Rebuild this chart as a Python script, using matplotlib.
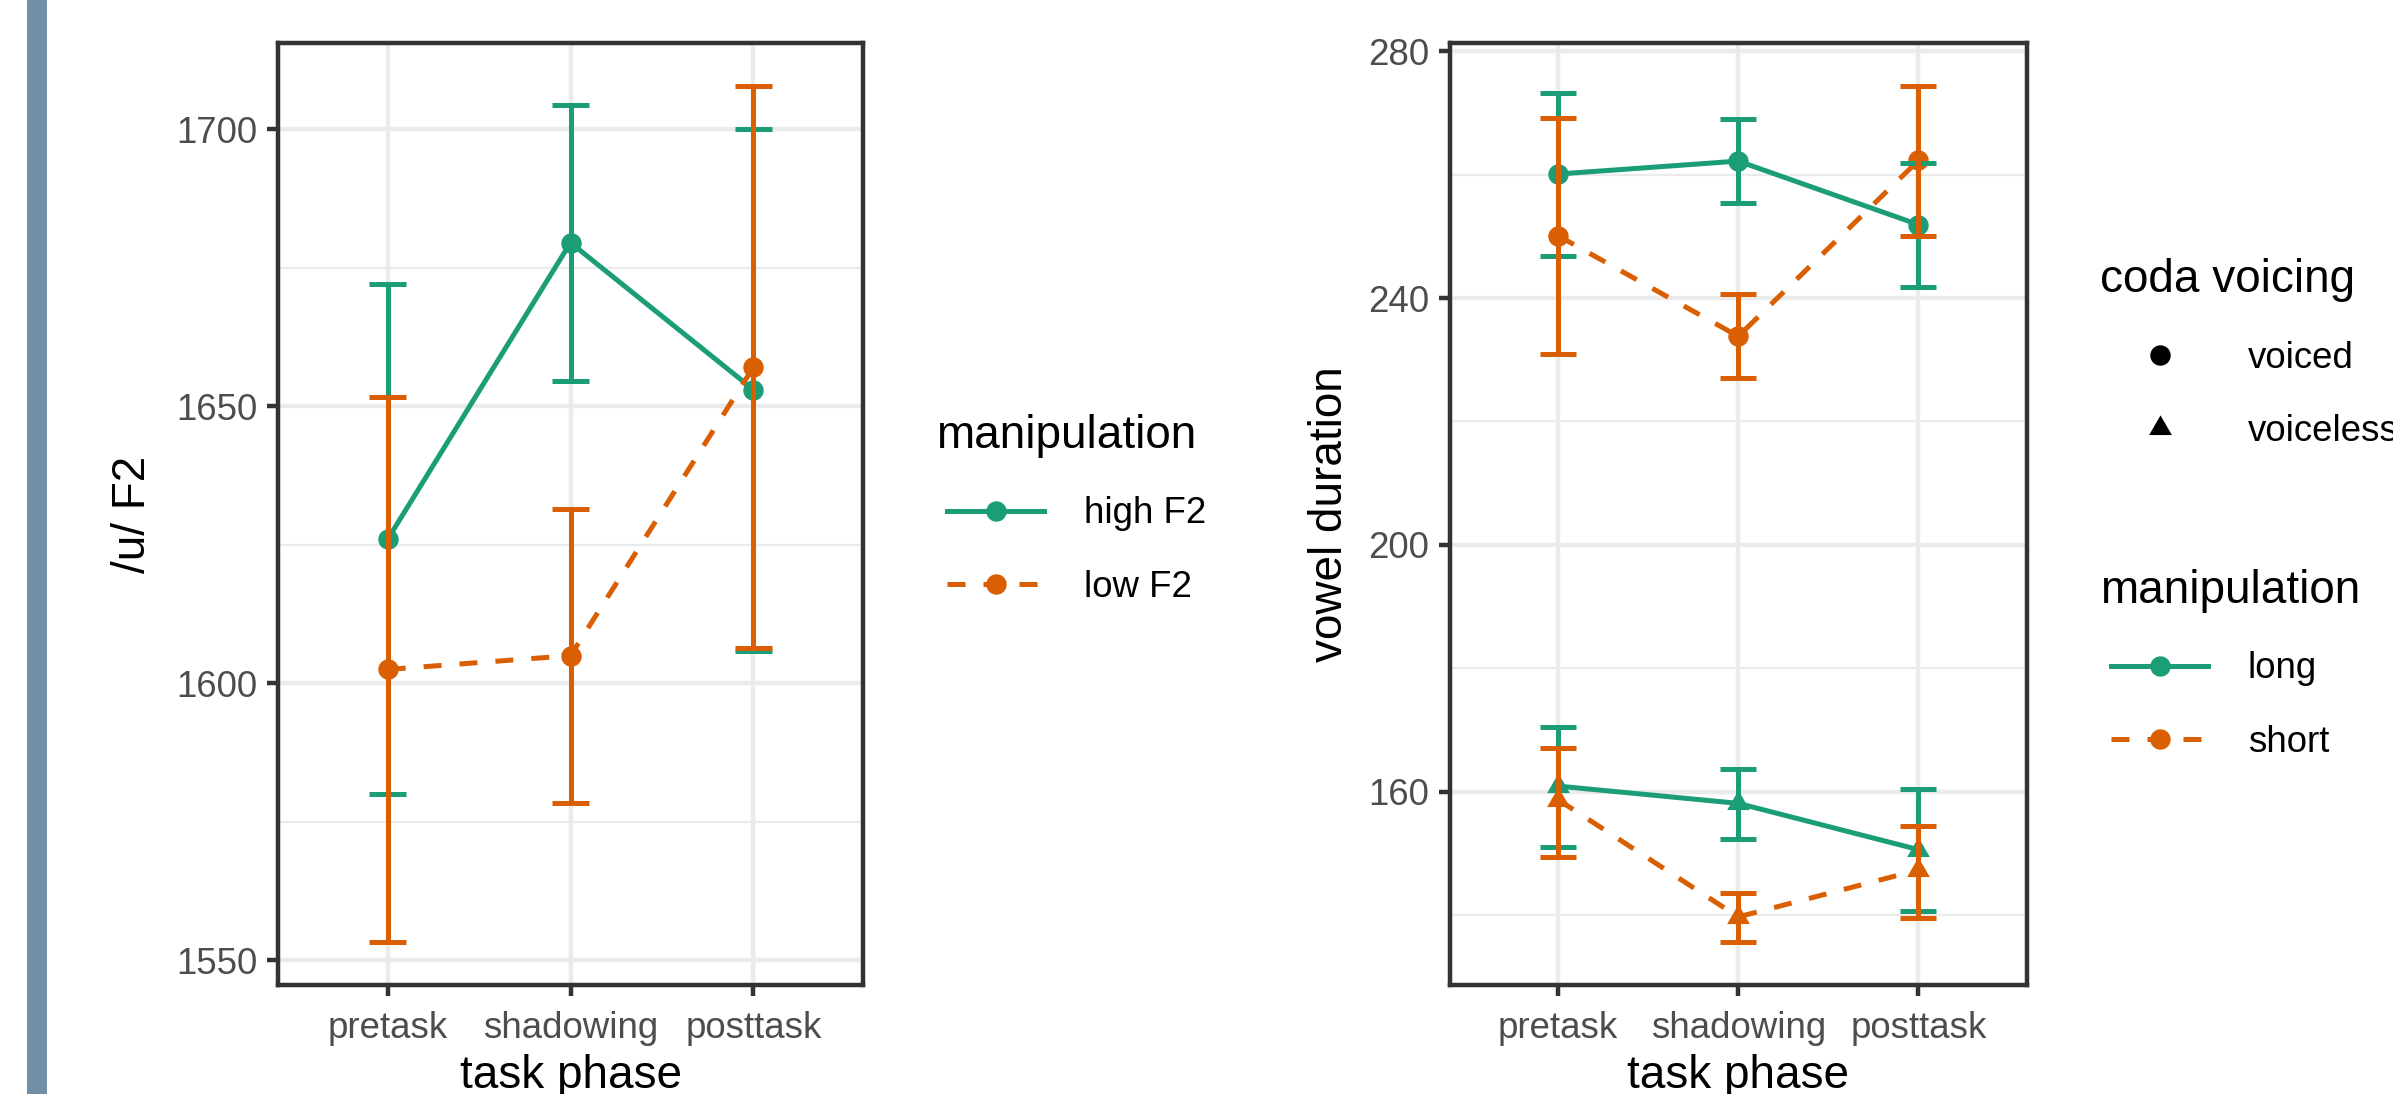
import matplotlib
matplotlib.use('Agg')
import matplotlib.pyplot as plt
from matplotlib.lines import Line2D
from matplotlib.patches import Rectangle
import numpy as np

plt.rcParams['font.family'] = ['Liberation Sans', 'DejaVu Sans']

# ---------------- data ----------------
phases = ['pretask', 'shadowing', 'posttask']

# left panel: /u/ F2
f2_high = [1626.0, 1679.5, 1653.0]
f2_high_lo = [1580.0, 1654.6, 1605.8]
f2_high_hi = [1672.0, 1704.3, 1700.0]
f2_low = [1602.5, 1605.0, 1657.0]
f2_low_lo = [1553.3, 1578.5, 1606.4]
f2_low_hi = [1651.6, 1631.5, 1707.8]

# right panel: vowel duration
dur_voiced_long = [260.1, 262.2, 251.9]
dur_voiced_long_lo = [246.8, 255.4, 241.8]
dur_voiced_long_hi = [273.2, 269.1, 261.9]
dur_voiced_short = [250.1, 233.8, 262.3]
dur_voiced_short_lo = [231.0, 227.1, 250.1]
dur_voiced_short_hi = [269.2, 240.6, 274.4]
dur_voiceless_long = [160.9, 158.1, 150.6]
dur_voiceless_long_lo = [151.0, 152.4, 140.7]
dur_voiceless_long_hi = [170.4, 163.7, 160.5]
dur_voiceless_short = [158.7, 139.7, 147.3]
dur_voiceless_short_lo = [149.4, 135.6, 139.5]
dur_voiceless_short_hi = [167.1, 143.5, 154.5]

f2_major = [1550, 1600, 1650, 1700]
f2_minor = [1575, 1625, 1675]
dur_major = [160, 200, 240, 280]
dur_minor = [140, 180, 220, 260]

# ---------------- style ----------------
W, H = 2393, 1094
DPI = 300
GREEN = '#1B9E77'
ORANGE = '#D95F02'
LW = 1.2
DASH = (0, (3.6, 3.6))
TRI = [(0, 1), (0.8660, -0.5), (-0.8660, -0.5), (0, 1)]
MS_C = 4.9
MS_T = 6.3

fig = plt.figure(figsize=(W / DPI, H / DPI), dpi=DPI)
fig.patch.set_facecolor('white')


def px_axes(l, t, r, b):
    return fig.add_axes([l / W, 1 - b / H, (r - l) / W, (b - t) / H])


def expand(*arrs):
    lo = min(min(a) for a in arrs)
    hi = max(max(a) for a in arrs)
    d = (hi - lo) * 0.05
    return lo - d, hi + d


def style(ax, ylim, major, minor):
    ax.set_xlim(-0.6, 2.6)
    ax.set_ylim(*ylim)
    ax.set_xticks(range(len(phases)))
    ax.set_xticklabels(phases)
    ax.set_yticks(major)
    ax.set_yticklabels([str(v) for v in major])
    ax.set_yticks(minor, minor=True)
    ax.grid(True, which='major', color='#EBEBEB', lw=1.07)
    ax.grid(True, which='minor', axis='y', color='#EBEBEB', lw=0.53)
    ax.set_axisbelow(True)
    for s in ax.spines.values():
        s.set_color('#333333')
        s.set_linewidth(1.07)
        s.set_zorder(10)
    ax.tick_params(which='major', length=2.75, width=1.07, color='#333333',
                   labelsize=8.8, labelcolor='#4D4D4D', pad=2.2)
    ax.tick_params(axis='x', which='major', pad=3.4)
    ax.tick_params(which='minor', length=0)


def draw(ax, y, lo, hi, color, ls, marker, ms, z):
    x = np.arange(len(y))
    ax.plot(x, y, color=color, lw=LW, ls=ls, zorder=2 + z)
    ax.plot(x, y, ls='none', marker=marker, ms=ms, color=color, mew=0, zorder=3 + z)
    ax.vlines(x, lo, hi, colors=color, lw=LW, zorder=4 + z)
    ax.hlines(lo, x - 0.1, x + 0.1, colors=color, lw=LW, zorder=4 + z)
    ax.hlines(hi, x - 0.1, x + 0.1, colors=color, lw=LW, zorder=4 + z)


# ---------------- left panel ----------------
ax1 = px_axes(278, 43, 863, 985)
style(ax1, expand(f2_high_lo, f2_high_hi, f2_low_lo, f2_low_hi), f2_major, f2_minor)
draw(ax1, f2_high, f2_high_lo, f2_high_hi, GREEN, '-', 'o', MS_C, 0)
draw(ax1, f2_low, f2_low_lo, f2_low_hi, ORANGE, DASH, 'o', MS_C, 0.1)

# ---------------- right panel ----------------
ax2 = px_axes(1450, 43, 2026.5, 985)
style(ax2, expand(dur_voiced_long_lo, dur_voiced_long_hi, dur_voiced_short_lo,
                  dur_voiced_short_hi, dur_voiceless_long_lo, dur_voiceless_long_hi,
                  dur_voiceless_short_lo, dur_voiceless_short_hi), dur_major, dur_minor)
draw(ax2, dur_voiced_long, dur_voiced_long_lo, dur_voiced_long_hi, GREEN, '-', 'o', MS_C, 0)
draw(ax2, dur_voiceless_long, dur_voiceless_long_lo, dur_voiceless_long_hi, GREEN, '-', TRI, MS_T, 0.05)
draw(ax2, dur_voiced_short, dur_voiced_short_lo, dur_voiced_short_hi, ORANGE, DASH, 'o', MS_C, 0.1)
draw(ax2, dur_voiceless_short, dur_voiceless_short_lo, dur_voiceless_short_hi, ORANGE, DASH, TRI, MS_T, 0.15)

# ---------------- axis titles ----------------
fig.text(133 / W, 1 - 514 / H, '/u/ F2', rotation=90, ha='center', va='center', fontsize=11)
fig.text(1330 / W, 1 - 514 / H, 'vowel duration', rotation=90, ha='center', va='center', fontsize=11)
fig.text(570.5 / W, 1 - 1088 / H, 'task phase', ha='center', va='baseline', fontsize=11)
fig.text(1738 / W, 1 - 1088 / H, 'task phase', ha='center', va='baseline', fontsize=11)

# ---------------- legends ----------------
leg_kw = dict(loc='upper left', frameon=False, borderpad=0, borderaxespad=0,
              handlelength=2.65, handletextpad=1.08, labelspacing=1.05,
              fontsize=8.8, title_fontsize=11, alignment='left')

h_green = Line2D([], [], color=GREEN, lw=LW, marker='o', ms=MS_C, mew=0)
h_orange = Line2D([], [], color=ORANGE, lw=LW, ls=DASH, marker='o', ms=MS_C, mew=0)
h_voiced = Line2D([], [], color='black', ls='none', marker='o', ms=MS_C, mew=0)
h_voiceless = Line2D([], [], color='black', ls='none', marker=TRI, ms=MS_T, mew=0)

legs = []
legs.append(fig.legend([h_green, h_orange], ['high F2', 'low F2'], title='manipulation',
                       bbox_to_anchor=(947 / W, 1 - 414 / H), **leg_kw))
legs.append(fig.legend([h_voiced, h_voiceless], ['voiced', 'voiceless'], title='coda voicing',
                       bbox_to_anchor=(2111 / W, 1 - 258 / H), **leg_kw))
legs.append(fig.legend([h_green, h_orange], ['long', 'short'], title='manipulation',
                       bbox_to_anchor=(2111 / W, 1 - 569 / H), **leg_kw))
for lg in legs:
    lg.get_title().set_x(-11)

# ---------------- slide bar ----------------
fig.add_artist(Rectangle((27.3 / W, 0), 19.4 / W, 1, transform=fig.transFigure,
                         facecolor='#7190A5', edgecolor='none'))

fig.savefig('out.png', dpi=DPI)
